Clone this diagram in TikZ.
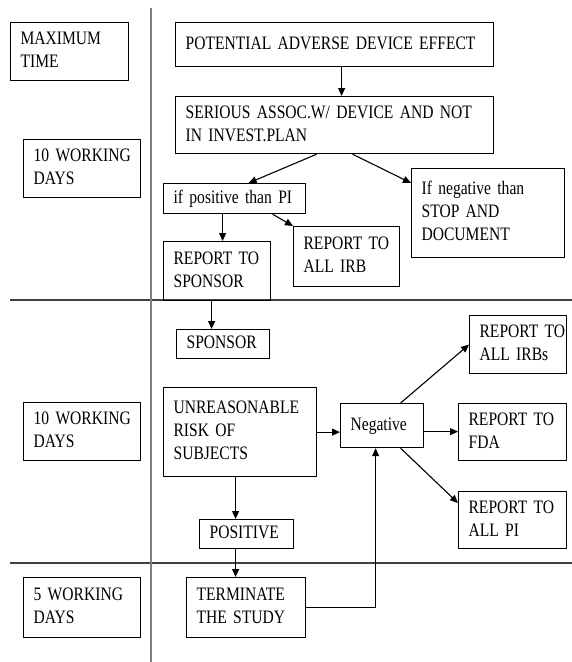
\documentclass[tikz,border=0pt]{standalone}
\usepackage{fontspec}
\setmainfont{Liberation Serif}[FakeStretch=0.82, WordSpace=0.8]
\usetikzlibrary{arrows.meta}
\tikzset{
  box/.style={draw=black, line width=1.2pt, anchor=north west, inner xsep=10pt, inner ysep=0pt,
    align=left, font=\fontsize{19}{23}\selectfont},
  arr/.style={line width=1.1pt, -{Triangle[length=8pt,width=7pt]}},
  lane/.style={line width=1.4pt, draw=black!75},
  divider/.style={line width=1.8pt, draw=black!50},
}
% box of width w and height h; the lines are kept as given, left aligned
\newcommand{\flowbox}[6]{%
  \node[box, text width=#4pt-20pt, minimum height=#5pt] (#1) at (#2,#3)
    {\begin{tabular}{@{}l@{}}#6\end{tabular}};}
\begin{document}
\begin{tikzpicture}[x=1pt,y=-1pt]
\useasboundingbox (0,0) rectangle (572,662);

% swim-lane separators
\coordinate (vtop) at (151,8);
\coordinate (vbot) at (151,662);
\coordinate (h1l) at (10,300);
\coordinate (h1r) at (572,300);
\coordinate (h2l) at (10,563);
\coordinate (h2r) at (572,563);
\draw[lane] (h1l) -- (h1r);
\draw[lane] (h2l) -- (h2r);
\draw[divider] (vtop) -- (vbot);

% time column
\flowbox{maxt}{10}{22}{118}{58}{MAXIMUM\\TIME}
\flowbox{dA}{23}{139}{117}{58}{10 WORKING\\DAYS}
\flowbox{dB}{23}{402}{117}{58}{10 WORKING\\DAYS}
\flowbox{dC}{23}{577}{117}{60}{5 WORKING\\DAYS}

% first period
\flowbox{pot}{175}{22}{318}{44}{POTENTIAL ADVERSE DEVICE EFFECT}
\flowbox{ser}{175}{96}{318}{57}{SERIOUS ASSOC.W/ DEVICE AND NOT\\IN INVEST.PLAN}
\flowbox{ifpos}{163}{183}{142}{30}{if positive than PI}
\flowbox{ifneg}{411}{168}{153}{89}{If negative than\\STOP AND\\DOCUMENT}
\flowbox{rsp}{163}{241}{107}{59}{REPORT TO\\SPONSOR}
\flowbox{rirb}{293}{226}{106}{60}{REPORT TO\\ALL IRB}

% second period
\flowbox{spon}{176}{329}{93}{29}{SPONSOR}
\flowbox{unr}{163}{387}{153}{89}{UNREASONABLE\\RISK OF\\SUBJECTS}
\flowbox{neg}{340}{403}{83}{44}{Negative}
\flowbox{irbs}{469}{315}{97}{58}{REPORT TO\\ALL IRBs}
\flowbox{fda}{458}{403}{108}{57}{REPORT TO\\FDA}
\flowbox{pi}{458}{491}{108}{57}{REPORT TO\\ALL PI}
\flowbox{pos}{199}{519}{94}{29}{POSITIVE}

% third period
\flowbox{term}{186}{577}{119}{60}{TERMINATE\\THE STUDY}

% connectors
\draw[arr] ([xshift=7pt]pot.south) -- ([xshift=7pt]ser.north);
\draw[arr] ([xshift=-18pt]ser.south) -- ([xshift=14pt]ifpos.north);
\draw[arr] ([xshift=18pt]ser.south) -- ([yshift=-15pt]ifneg.north west);
\draw[arr] ([xshift=-12pt]ifpos.south) -- ([xshift=-12pt]ifpos.south |- rsp.north);
\draw[arr] ([xshift=38pt]ifpos.south) -- (rirb.north west);
\draw[arr] ([xshift=-5.5pt]rsp.south) -- ([xshift=-5.5pt]rsp.south |- spon.north);
\draw[arr] (unr.east) -- (unr.east -| neg.west);
\draw[arr] ([xshift=-4.5pt]unr.south) -- ([xshift=-4.5pt]unr.south |- pos.north);
\draw[arr] ([xshift=-11pt]pos.south) -- ([xshift=-11pt]pos.south |- term.north);
\draw[arr] (term.east) -| ([xshift=-6.5pt]neg.south);
\draw[arr] ([yshift=-6pt]neg.east) -- ([yshift=-6pt]neg.east -| fda.west);
\draw[arr] ([xshift=18.5pt]neg.north) -- (irbs.west);
\draw[arr] ([xshift=18.5pt]neg.south) -- ([yshift=-12pt]pi.north west);
\end{tikzpicture}
\end{document}
